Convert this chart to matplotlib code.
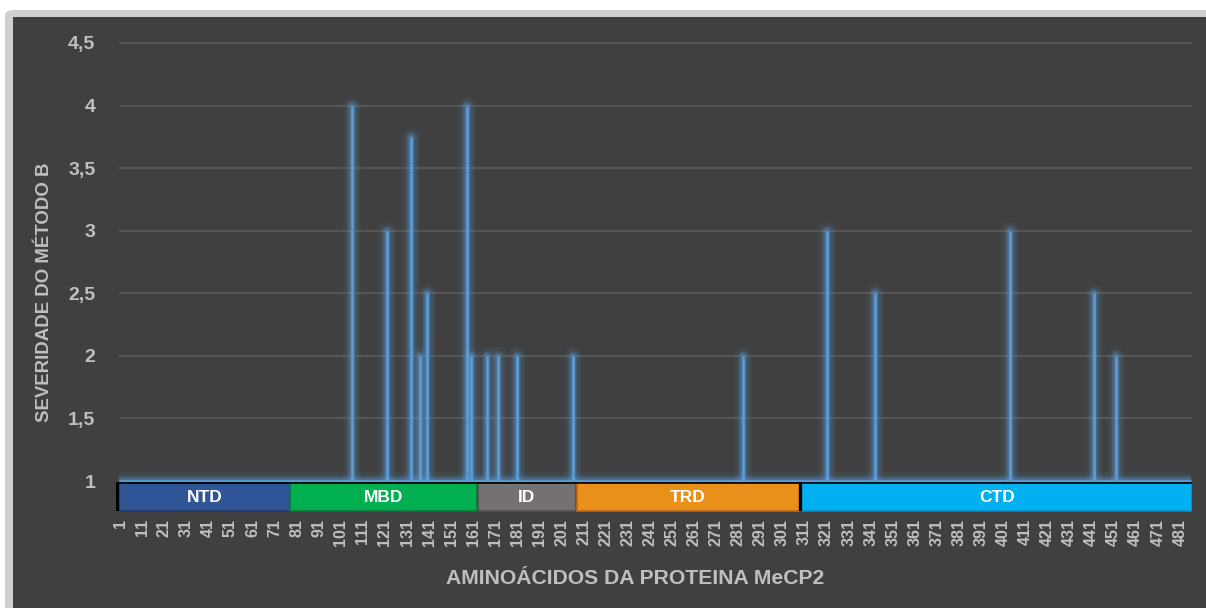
import numpy as np
import matplotlib
matplotlib.use("Agg")
import matplotlib.pyplot as plt
from matplotlib.patches import Rectangle, FancyBboxPatch

# ---------------- data ----------------
n_aa = 486
mut_positions = [106, 122, 133, 137, 140, 158, 160, 167, 172, 181, 206,
                 283, 321, 343, 404, 442, 452]
mut_severity = [4, 3, 3.75, 2, 2.5, 4, 2, 2, 2, 2, 2,
                2, 3, 2.5, 3, 2.5, 2]
baseline_severity = 1

domain_names = ["NTD", "MBD", "ID", "TRD", "CTD"]
domain_start = [0.5, 78, 163, 208, 310]
domain_end = [78, 162.5, 207.5, 308.5, 486.5]
domain_colors = ["#2F5597", "#00B050", "#767171", "#E8901A", "#00B0F0"]
domain_edges = ["#1F3A6A", "#0A7A3A", "#505050", "#C0661A", "#0090C8"]

ytick_vals = [1, 1.5, 2, 2.5, 3, 3.5, 4, 4.5]
ytick_labels = ["1", "1,5", "2", "2,5", "3", "3,5", "4", "4,5"]

# ---------------- figure ----------------
W, H = 1206, 608
fig = plt.figure(figsize=(W / 100, H / 100), dpi=100, facecolor="white")

grey = FancyBboxPatch((5 / W, -0.05), 1.2, 1 - 10 / H + 0.05,
                      boxstyle="round,pad=0,rounding_size=0.008",
                      transform=fig.transFigure, facecolor="#D0D0D0",
                      edgecolor="none", zorder=-20)
fig.patches.append(grey)
dark = Rectangle((13 / W, -0.05), 1.2, 1 - 17 / H + 0.05,
                 transform=fig.transFigure, facecolor="#404040",
                 edgecolor="none", zorder=-10)
fig.patches.append(dark)

ax = fig.add_axes([118.9 / W, 1 - 512.3 / H, (1192 - 118.9) / W,
                   (512.3 - 36.7) / H])
ax.set_zorder(5)
ax.set_facecolor("none")
ax.set_xlim(0.5, 486.5)
ax.set_ylim(0.75, 4.55)

txt = "#BFBFBF"
for v in ytick_vals[1:]:
    ax.axhline(v, color="#585858", lw=1.3, zorder=1)

# severity line: baseline + vertical spikes, with soft glow
blue = "#5B9BD5"
for lw, al in [(13, 0.07), (9, 0.12), (6, 0.18), (4, 0.25)]:
    ax.hlines(baseline_severity, 0.5, n_aa, color=blue, lw=lw, alpha=al,
              zorder=2)
    ax.vlines(mut_positions, baseline_severity, mut_severity, color=blue,
              lw=lw, alpha=al, zorder=2, capstyle="round")
ax.hlines(baseline_severity, 0.5, n_aa, color=blue, lw=2, zorder=3)
ax.vlines(mut_positions, baseline_severity, mut_severity, color=blue, lw=2,
          zorder=3)

# domain bars
for name, s, e, c, ec in zip(domain_names, domain_start, domain_end,
                             domain_colors, domain_edges):
    ax.add_patch(Rectangle((s, 0.757), e - s, 0.228, facecolor=c,
                           edgecolor=ec, lw=1.2, zorder=4))
    ax.text((s + e) / 2, 0.87, name, color="white", fontsize=12.5,
            fontweight="bold", ha="center", va="center", zorder=5,
            family="Liberation Sans")
# dark separators
ax.add_patch(Rectangle((-0.6, 0.757), 1.1, 0.232, facecolor="black",
                       edgecolor="none", zorder=5, clip_on=False))
ax.add_patch(Rectangle((308.6, 0.757), 1.3, 0.232, facecolor="black",
                       edgecolor="none", zorder=5))
ax.hlines(0.988, 0.5, n_aa + 0.5, color="black", lw=1.2, zorder=5)

# ticks
ax.set_yticks(ytick_vals)
ax.set_yticklabels(ytick_labels)
xt = np.arange(1, n_aa + 1, 10)
ax.set_xticks(xt)
ax.set_xticklabels([str(v) for v in xt], rotation=90)
ax.tick_params(axis="y", length=0, pad=17, labelsize=14, labelcolor=txt)
ax.tick_params(axis="x", length=0, pad=5, labelsize=11.5, labelcolor=txt)
for lab in ax.get_xticklabels() + ax.get_yticklabels():
    lab.set_fontweight("bold")
    lab.set_family("Liberation Sans")
for sp in ax.spines.values():
    sp.set_visible(False)

fig.text(45 / W, 1 - 292 / H, "SEVERIDADE DO MÉTODO B", rotation=90,
         color=txt, fontsize=13.4, fontweight="bold", ha="center",
         va="center", family="Liberation Sans")
fig.text(635 / W, 1 - 578 / H, "AMINOÁCIDOS DA PROTEINA MeCP2",
         color=txt, fontsize=15.2, fontweight="bold", ha="center",
         va="center", family="Liberation Sans")

fig.savefig("out.png", dpi=100, facecolor="white")
